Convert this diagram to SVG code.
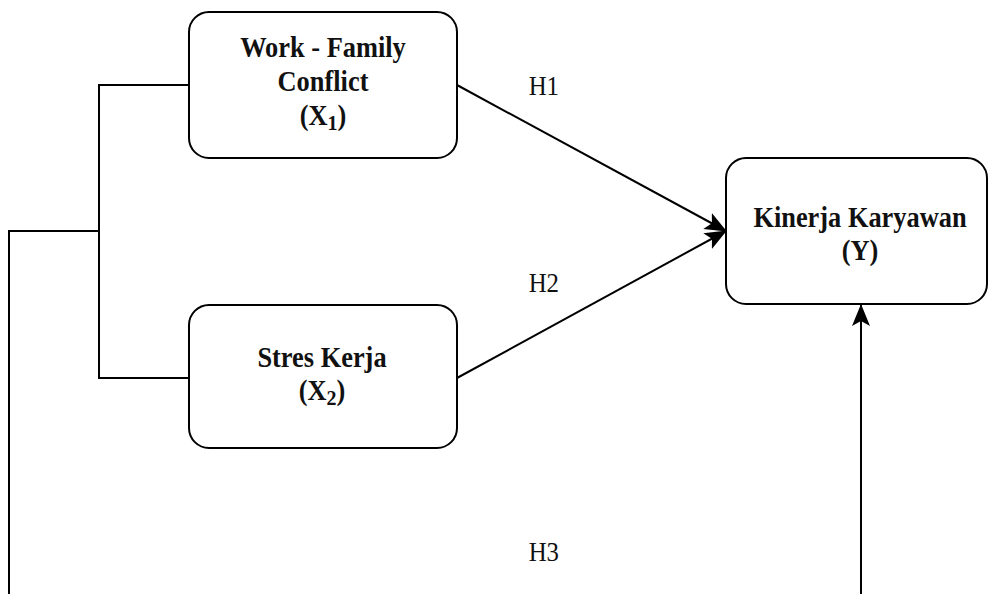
<svg xmlns="http://www.w3.org/2000/svg" width="988" height="594" viewBox="0 0 988 594">
<style>
.box{fill:#fff;stroke:#000;stroke-width:2}
.t{font-family:"Liberation Serif","Times New Roman",serif;font-weight:bold;font-size:29px;fill:#111;text-anchor:middle}
.h{font-family:"Liberation Serif","Times New Roman",serif;font-size:27px;fill:#111}
.c{fill:none;stroke:#000;stroke-width:2}
</style>
<defs>
<marker id="arr" viewBox="0 0 22 18" refX="21" refY="9" markerWidth="22" markerHeight="18" markerUnits="userSpaceOnUse" orient="auto">
<path d="M0,0 L22,9 L0,18 L5,9 Z" fill="#000"/>
</marker>
</defs>
<rect width="988" height="594" fill="#fff"/>
<g id="connectors">
<path class="c" d="M189,85 H99 V378 H189"/>
<path class="c" d="M99,231 H9 V594"/>
<path class="c" d="M457,85 L726,231" marker-end="url(#arr)"/>
<path class="c" d="M457,378 L726,231" marker-end="url(#arr)"/>
<path class="c" d="M861,594 V305" marker-end="url(#arr)"/>
</g>
<g id="x1">
<rect class="box" x="189" y="12" width="268" height="146" rx="20"/>
<g transform="translate(323 0) scale(0.91 1)">
<text class="t" x="0" y="57">Work - Family</text>
<text class="t" x="0" y="91">Conflict</text>
<text class="t" x="0" y="125">(X<tspan font-size="22" dy="5">1</tspan><tspan dy="-5">)</tspan></text>
</g>
</g>
<g id="x2">
<rect class="box" x="189" y="305" width="268" height="143" rx="20"/>
<g transform="translate(322 0) scale(0.91 1)">
<text class="t" x="0" y="367">Stres Kerja</text>
<text class="t" x="0" y="400">(X<tspan font-size="22" dy="5">2</tspan><tspan dy="-5">)</tspan></text>
</g>
</g>
<g id="y">
<rect class="box" x="726" y="158" width="261" height="146" rx="20"/>
<g transform="translate(860 0) scale(0.91 1)">
<text class="t" x="0" y="227">Kinerja Karyawan</text>
<text class="t" x="0" y="260">(Y)</text>
</g>
</g>
<g id="labels">
<text class="h" x="529" y="95" transform="translate(42 0) scale(0.92 1)">H1</text>
<text class="h" x="529" y="292" transform="translate(42 0) scale(0.92 1)">H2</text>
<text class="h" x="529" y="561" transform="translate(42 0) scale(0.92 1)">H3</text>
</g>
</svg>
